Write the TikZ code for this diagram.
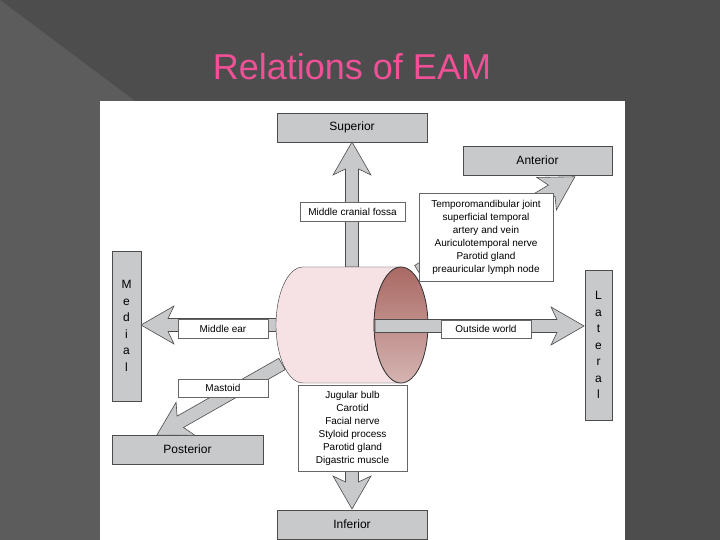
\documentclass[tikz,border=0pt]{standalone}
\usepackage{fontspec}
\setmainfont{Liberation Sans}
\usetikzlibrary{positioning}
\definecolor{slidegray}{RGB}{77,77,77}
\definecolor{slidelight}{RGB}{92,92,92}
\definecolor{boxgray}{RGB}{200,201,203}
\definecolor{titlepink}{RGB}{240,80,150}
\definecolor{tubepink}{RGB}{246,226,229}
\definecolor{tubedark}{RGB}{170,105,100}
\tikzset{
  dirbox/.style={draw=black!70,fill=boxgray,font=\fontsize{12}{14}\selectfont,inner sep=0pt},
  vertbox/.style={dirbox,align=center,font=\fontsize{12}{16.5}\selectfont},
  relbox/.style={draw=black!60,fill=white,font=\fontsize{10}{13}\selectfont,inner sep=0pt,align=center},
  fatarrow/.style={draw=black!70,fill=boxgray,line width=0.6pt},
}
% broad arrow: start point, angle, length
\newcommand\fatarrow[3]{%
  \begin{scope}[shift={#1},rotate=#2]
    \path[fatarrow] (0,6.5) -- (#3-27,6.5) -- (#3-33,19) -- (#3,0) -- (#3-33,-19)
      -- (#3-27,-6.5) -- (0,-6.5) -- cycle;
  \end{scope}}
\begin{document}
\begin{tikzpicture}[x=1pt,y=1pt]
  \useasboundingbox (0,0) rectangle (720,540);
  \fill[slidegray] (0,0) rectangle (720,540);
  \fill[slidelight] (0,540) -- (135,439) -- (100,439) -- (100,0) -- (0,0) -- cycle;
  \node (title) at (352,473) {\fontsize{36}{40}\selectfont\color{titlepink}Relations of EAM};
  \fill[white] (100,0) rectangle (625,439);
  % direction boxes
  \node[dirbox,minimum width=150,minimum height=29] (superior) at (352,412.5) {Superior};
  \node[dirbox,minimum width=149,minimum height=29] (anterior) at (537.5,379.5) {Anterior};
  \node[vertbox,minimum width=29,minimum height=150] (medial) at (126.5,214)
    {M\\e\\d\\i\\a\\l};
  \node[vertbox,minimum width=27,minimum height=150] (lateral) at (598.5,195)
    {L\\a\\t\\e\\r\\a\\l};
  \node[dirbox,minimum width=151,minimum height=29] (posterior) at (187.5,90.5) {Posterior};
  \node[dirbox,minimum width=150,minimum height=29] (inferior) at (352,15.5) {Inferior};
  % arrows behind the canal
  \fatarrow{(352,273)}{90}{125}
  \fatarrow{(352,82)}{-90}{51}
  \fatarrow{(290,215)}{180}{149}
  \fatarrow{(418,269)}{31}{183}
  \fatarrow{(282,176)}{209.6}{144}
  % the canal
  \path[draw=black!80,fill=tubepink] (303,273) -- (401,273) arc[start angle=90,end angle=270,x radius=27,y radius=58]
    -- (303,157) arc[start angle=270,end angle=90,x radius=27,y radius=58] -- cycle;
  \path[draw=black!80,line width=0.8pt,top color=tubedark,bottom color=tubedark!50,middle color=tubedark!75]
    (401,215) ellipse[x radius=27,y radius=58];
  \fatarrow{(375,214)}{0}{209}
  % relation labels
  \node[relbox,minimum width=105,minimum height=19] (fossa) at (352.5,328.5) {Middle cranial fossa};
  \node[relbox,minimum width=134,minimum height=88] (jointbox) at (486,303)
    {Temporomandibular joint\\superficial temporal\\artery and vein\\Auriculotemporal nerve\\Parotid gland\\preauricular lymph node};
  \node[relbox,minimum width=90,minimum height=19] (midear) at (223,211.5) {Middle ear};
  \node[relbox,minimum width=90,minimum height=18] (outside) at (486,211) {Outside world};
  \node[relbox,minimum width=90,minimum height=18] (mastoid) at (223,152) {Mastoid};
  \node[relbox,minimum width=109,minimum height=86] (jugbox) at (352.5,112)
    {Jugular bulb\\Carotid\\Facial nerve\\Styloid process\\Parotid gland\\Digastric muscle};
\end{tikzpicture}
\end{document}
